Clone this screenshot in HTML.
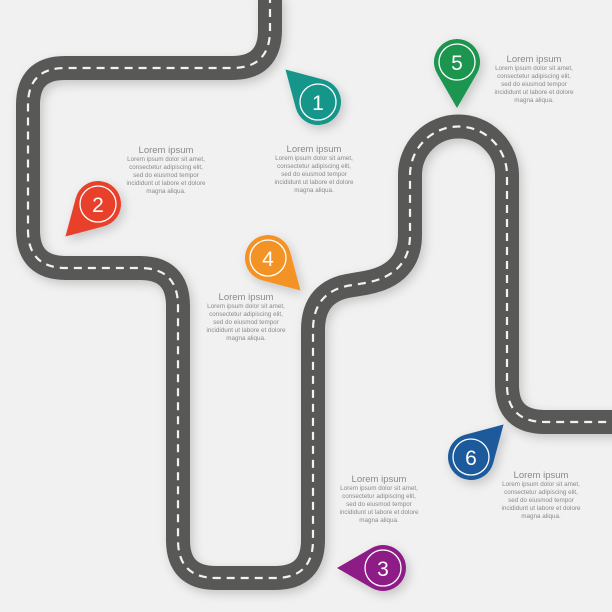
<!DOCTYPE html>
<html><head><meta charset="utf-8"><style>
html,body{margin:0;padding:0;background:#f1f1f1;}
svg{display:block;font-family:"Liberation Sans",sans-serif;}
.h{font-size:9.5px;fill:#8a8a8a;text-anchor:middle;}
.b{font-size:6.3px;fill:#8a8a8a;text-anchor:middle;}
.n{font-size:21px;fill:#fff;text-anchor:middle;}
</style></head><body>
<svg width="612" height="612" viewBox="0 0 612 612" xmlns="http://www.w3.org/2000/svg">
<defs>
<filter id="sh" x="-20%" y="-20%" width="140%" height="140%"><feDropShadow dx="3" dy="4" stdDeviation="5" flood-color="#000" flood-opacity="0.18"/></filter>
<path id="pin" d="M0,46 L-19.9,11.5 A23,23 0 1 1 19.9,11.5 Z"/>
</defs>
<rect width="612" height="612" fill="#f1f1f1"/>
<g filter="url(#sh)">
<path id="road" d="M270,-5 L270,30 Q270,68 232,68 L65,68 Q28,68 28,105 L28,230 Q28,268 66,268 L140,268 Q178,268 178,306 L178,540 Q178,578 216,578 L275,578 Q313,578 313,540 L313,330 Q313,290 353,285 L365,283 Q410,275 410,235 L410,175 A48.5,48.5 0 0 1 507,175 L507,385 Q507,422 545,422 L620,422" fill="none" stroke="#595857" stroke-width="24"/>
</g>
<path d="M270,-5 L270,30 Q270,68 232,68 L65,68 Q28,68 28,105 L28,230 Q28,268 66,268 L140,268 Q178,268 178,306 L178,540 Q178,578 216,578 L275,578 Q313,578 313,540 L313,330 Q313,290 353,285 L365,283 Q410,275 410,235 L410,175 A48.5,48.5 0 0 1 507,175 L507,385 Q507,422 545,422 L620,422" fill="none" stroke="#f2f2f2" stroke-width="2.2" stroke-dasharray="8 6"/>

<g filter="url(#sh)">
<use href="#pin" transform="translate(318,102) rotate(135)" fill="#12968a"/>
<use href="#pin" transform="translate(98,204) rotate(45)" fill="#e8412c"/>
<use href="#pin" transform="translate(268,258) rotate(-45)" fill="#f39325"/>
<use href="#pin" transform="translate(457,62)" fill="#1a9550"/>
<use href="#pin" transform="translate(383,568) rotate(90)" fill="#8e1f87"/>
<use href="#pin" transform="translate(471,457) rotate(-135)" fill="#1b5a9c"/>
</g>
<g fill="none" stroke="#fff" stroke-width="1.3">
<circle cx="318" cy="102" r="18"/><circle cx="98" cy="204" r="18"/><circle cx="268" cy="258" r="18"/>
<circle cx="457" cy="62" r="18"/><circle cx="383" cy="568" r="18"/><circle cx="471" cy="457" r="18"/>
</g>
<text class="n" x="318" y="110">1</text><text class="n" x="98" y="212">2</text><text class="n" x="268" y="266">4</text>
<text class="n" x="457" y="70">5</text><text class="n" x="383" y="576">3</text><text class="n" x="471" y="465">6</text>

<g>
<text class="h" x="166" y="153">Lorem ipsum</text>
<text class="b" x="166" y="161">Lorem ipsum dolor sit amet,</text>
<text class="b" x="166" y="169">consectetur adipiscing elit,</text>
<text class="b" x="166" y="177">sed do eiusmod tempor</text>
<text class="b" x="166" y="185">incididunt ut labore et dolore</text>
<text class="b" x="166" y="193">magna aliqua.</text>
</g>
<g>
<text class="h" x="314" y="152">Lorem ipsum</text>
<text class="b" x="314" y="160">Lorem ipsum dolor sit amet,</text>
<text class="b" x="314" y="168">consectetur adipiscing elit,</text>
<text class="b" x="314" y="176">sed do eiusmod tempor</text>
<text class="b" x="314" y="184">incididunt ut labore et dolore</text>
<text class="b" x="314" y="192">magna aliqua.</text>
</g>
<g>
<text class="h" x="246" y="300">Lorem ipsum</text>
<text class="b" x="246" y="308">Lorem ipsum dolor sit amet,</text>
<text class="b" x="246" y="316">consectetur adipiscing elit,</text>
<text class="b" x="246" y="324">sed do eiusmod tempor</text>
<text class="b" x="246" y="332">incididunt ut labore et dolore</text>
<text class="b" x="246" y="340">magna aliqua.</text>
</g>
<g>
<text class="h" x="534" y="62">Lorem ipsum</text>
<text class="b" x="534" y="70">Lorem ipsum dolor sit amet,</text>
<text class="b" x="534" y="78">consectetur adipiscing elit,</text>
<text class="b" x="534" y="86">sed do eiusmod tempor</text>
<text class="b" x="534" y="94">incididunt ut labore et dolore</text>
<text class="b" x="534" y="102">magna aliqua.</text>
</g>
<g>
<text class="h" x="379" y="482">Lorem ipsum</text>
<text class="b" x="379" y="490">Lorem ipsum dolor sit amet,</text>
<text class="b" x="379" y="498">consectetur adipiscing elit,</text>
<text class="b" x="379" y="506">sed do eiusmod tempor</text>
<text class="b" x="379" y="514">incididunt ut labore et dolore</text>
<text class="b" x="379" y="522">magna aliqua.</text>
</g>
<g>
<text class="h" x="541" y="478">Lorem ipsum</text>
<text class="b" x="541" y="486">Lorem ipsum dolor sit amet,</text>
<text class="b" x="541" y="494">consectetur adipiscing elit,</text>
<text class="b" x="541" y="502">sed do eiusmod tempor</text>
<text class="b" x="541" y="510">incididunt ut labore et dolore</text>
<text class="b" x="541" y="518">magna aliqua.</text>
</g>
</svg>
</body></html>
